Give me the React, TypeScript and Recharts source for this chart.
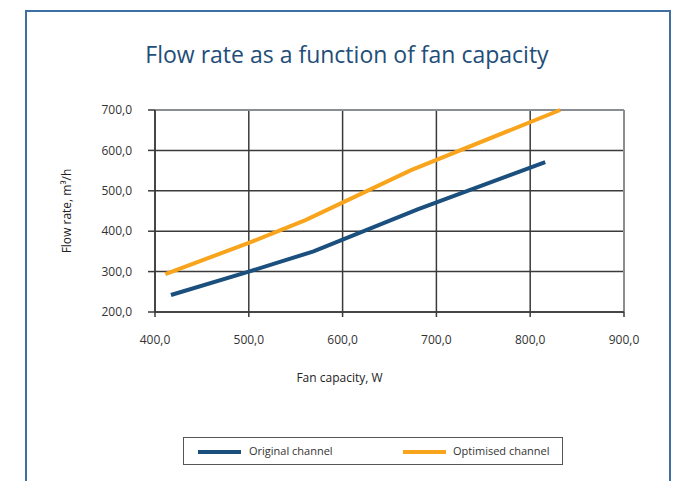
import React from "react"
import {
    LineChart,
    Line,
    XAxis,
    YAxis,
    CartesianGrid,
    ReferenceLine,
    Label,
} from "recharts"

// fan capacity (W) -> flow rate (m3/h)
const originalCapacity = [417, 500, 569, 680, 816]
const originalFlow = [242, 300, 350, 454, 571]

const optimisedCapacity = [411, 500, 561, 673, 832]
const optimisedFlow = [294, 371, 428, 551, 700]

const xTicks = [400, 500, 600, 700, 800, 900]
const yTicks = [200, 300, 400, 500, 600, 700]

const BLUE = "#1b4f7e"
const ORANGE = "#f8a41d"
const GRID = "#3a3a3a"
const FONT = "'Open Sans', 'Noto Sans', sans-serif"

const originalData = originalCapacity.map((x, i) => ({
    x,
    y: originalFlow[i],
}))
const optimisedData = optimisedCapacity.map((x, i) => ({
    x,
    y: optimisedFlow[i],
}))

const fmt = (v: number) => v.toFixed(1).replace(".", ",")

function LegendBox() {
    return (
        <div
            style={{
                position: "absolute",
                left: 183,
                top: 437,
                width: 380,
                height: 28,
                border: "1px solid #555",
                boxSizing: "border-box",
                fontFamily: FONT,
                fontSize: 11,
                color: "#333",
            }}
        >
            <div style={{ position: "absolute", left: 14, top: 12, width: 43, height: 4, background: BLUE }} />
            <div style={{ position: "absolute", left: 65, top: 5 }}>Original channel</div>
            <div style={{ position: "absolute", left: 219, top: 12, width: 43, height: 4, background: ORANGE }} />
            <div style={{ position: "absolute", left: 269, top: 5 }}>Optimised channel</div>
        </div>
    )
}

export default function App() {
    return (
        <div
            style={{
                position: "absolute",
                left: 0,
                top: 0,
                width: 678,
                height: 481,
                overflow: "hidden",
                background: "#fff",
            }}
        >
            {/* outer frame */}
            <div
                style={{
                    position: "absolute",
                    left: 25,
                    top: 10,
                    width: 646,
                    height: 500,
                    border: "2px solid #3d6fa3",
                    boxSizing: "border-box",
                }}
            />
            <div
                style={{
                    position: "absolute",
                    left: 0,
                    top: 38,
                    width: 694,
                    textAlign: "center",
                    fontFamily: FONT,
                    fontSize: 23,
                    color: "#1f4e79",
                }}
            >
                Flow rate as a function of fan capacity
            </div>

            <div style={{ position: "absolute", left: 0, top: 0 }}>
                <LineChart
                    width={678}
                    height={481}
                    margin={{ top: 110, right: 54, bottom: 104, left: 35 }}
                >
                    <CartesianGrid stroke={GRID} strokeWidth={1.5} />
                    <XAxis
                        type="number"
                        dataKey="x"
                        domain={[400, 900]}
                        ticks={xTicks}
                        allowDuplicatedCategory={false}
                        tickFormatter={fmt}
                        stroke={GRID}
                        strokeWidth={1.5}
                        tickSize={5}
                        tickMargin={18}
                        height={65}
                        tick={{ fill: "#333", fontSize: 12, fontFamily: FONT }}
                    >
                        <Label
                            value="Fan capacity, W"
                            position="insideBottom"
                            offset={-5}
                            dx={-50}
                            style={{ fill: "#222", fontSize: 12, fontFamily: FONT }}
                        />
                    </XAxis>
                    <YAxis
                        type="number"
                        dataKey="y"
                        domain={[200, 700]}
                        ticks={yTicks}
                        tickFormatter={fmt}
                        stroke={GRID}
                        strokeWidth={1.5}
                        tickSize={7}
                        tickMargin={16}
                        width={120}
                        tick={{ fill: "#333", fontSize: 12, fontFamily: FONT }}
                    >
                        <Label
                            value="Flow rate, m³/h"
                            angle={-90}
                            position="insideLeft"
                            offset={32}
                            style={{
                                fill: "#222",
                                fontSize: 12,
                                fontFamily: FONT,
                                textAnchor: "middle",
                            }}
                        />
                    </YAxis>
                    <ReferenceLine y={700} stroke="#8a8d91" strokeWidth={2} />
                    <ReferenceLine x={900} stroke="#8a8d91" strokeWidth={2} />
                    <Line
                        data={originalData}
                        dataKey="y"
                        stroke={BLUE}
                        strokeWidth={4}
                        dot={false}
                        isAnimationActive={false}
                    />
                    <Line
                        data={optimisedData}
                        dataKey="y"
                        stroke={ORANGE}
                        strokeWidth={4}
                        dot={false}
                        isAnimationActive={false}
                    />
                </LineChart>
            </div>

            <LegendBox />
        </div>
    )
}
